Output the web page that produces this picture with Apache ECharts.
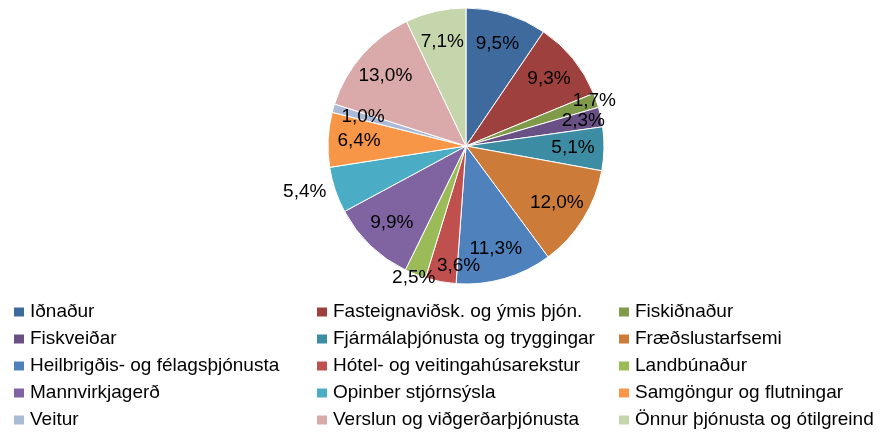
<!DOCTYPE html>
<html>
<head>
<meta charset="utf-8">
<script src="https://cdn.jsdelivr.net/npm/echarts@6/dist/echarts.min.js"></script>
<style>
html,body{margin:0;padding:0;background:#fff;}
#chart{width:887px;height:432px;}
</style>
</head>
<body>
<div id="chart"></div>
<script>
// Categories (legend order, also slice order clockwise from top)
const categories = [
  'Iðnaður',
  'Fasteignaviðsk. og ýmis þjón.',
  'Fiskiðnaður',
  'Fiskveiðar',
  'Fjármálaþjónusta og tryggingar',
  'Fræðslustarfsemi',
  'Heilbrigðis- og félagsþjónusta',
  'Hótel- og veitingahúsarekstur',
  'Landbúnaður',
  'Mannvirkjagerð',
  'Opinber stjórnsýsla',
  'Samgöngur og flutningar',
  'Veitur',
  'Verslun og viðgerðarþjónusta',
  'Önnur þjónusta og ótilgreind'
];
// Share (%)
const shares = [9.5, 9.3, 1.7, 2.3, 5.1, 12.0, 11.3, 3.6, 2.5, 9.9, 5.4, 6.4, 1.0, 13.0, 7.1];

// Palette
const palette = ['#3E6A9E','#9E413E','#7F9A48','#695185','#3C8DA3','#CC7B38','#4F81BD','#C0504D',
                 '#9BBB59','#8064A2','#4BACC6','#F79646','#AABAD7','#D9AAA9','#C6D6AC'];

// Which labels sit at which depth inside the pie
const bandMid = ['Iðnaður','Fasteignaviðsk. og ýmis þjón.','Fjármálaþjónusta og tryggingar','Fræðslustarfsemi',
  'Heilbrigðis- og félagsþjónusta','Mannvirkjagerð','Samgöngur og flutningar','Veitur',
  'Verslun og viðgerðarþjónusta','Önnur þjónusta og ótilgreind'];
const outsideLabels = ['Opinber stjórnsýsla'];

const FONT = '"Liberation Sans", Arial, sans-serif';
const fmt = p => p.value.toFixed(1).replace('.', ',') + '%';
const R = 138;
const CENTER = [466, 146];

const chart = echarts.init(document.getElementById('chart'));

function overlay(r0, r1, list, padLeft) {
  return {
    type: 'pie', silent: true, center: CENTER, radius: [r0, r1],
    startAngle: 90, clockwise: true, avoidLabelOverlap: false,
    itemStyle: { color: 'rgba(0,0,0,0)', borderWidth: 0 },
    labelLine: { show: false },
    labelLayout: { hideOverlap: false },
    emphasis: { disabled: true },
    animation: false,
    data: categories.map((c, i) => ({
      name: c, value: shares[i],
      label: {
        show: list.includes(c), position: 'inside', formatter: fmt,
        color: '#000', fontSize: 19, fontFamily: FONT,
        padding: [0, 0, 0, padLeft || 0]
      }
    }))
  };
}

const legendBase = {
  orient: 'vertical', top: 302, padding: 0, itemGap: 7,
  icon: 'rect', itemWidth: 12, itemHeight: 11,
  textStyle: { color: '#000', fontSize: 19, fontFamily: FONT, lineHeight: 20 },
  selectedMode: false
};
const col = k => categories.filter((c, i) => i % 3 === k);

chart.setOption({
  animation: false,
  color: palette,
  legend: [
    Object.assign({}, legendBase, { left: 12, data: col(0) }),
    Object.assign({}, legendBase, { left: 315, data: col(1) }),
    Object.assign({}, legendBase, { left: 617, data: col(2) })
  ],
  series: [
    {
      type: 'pie', center: CENTER, radius: R,
      startAngle: 90, clockwise: true, avoidLabelOverlap: false,
      itemStyle: { borderColor: '#fff', borderWidth: 1 },
      labelLine: { show: false, length: 4, length2: 0 },
      labelLayout: { hideOverlap: false },
      data: categories.map((c, i) => ({
        name: c, value: shares[i],
        label: {
          show: outsideLabels.includes(c), position: 'outside', formatter: fmt,
          color: '#000', fontSize: 19, fontFamily: FONT
        }
      }))
    },
    overlay(70, R, bandMid),
    overlay(96, R, ['Fiskveiðar']),
    overlay(100, R, ['Hótel- og veitingahúsarekstur'], 30),
    overlay(128, R, ['Fiskiðnaður']),
    overlay(132, 146, ['Landbúnaður'])
  ]
});
</script>
</body>
</html>
